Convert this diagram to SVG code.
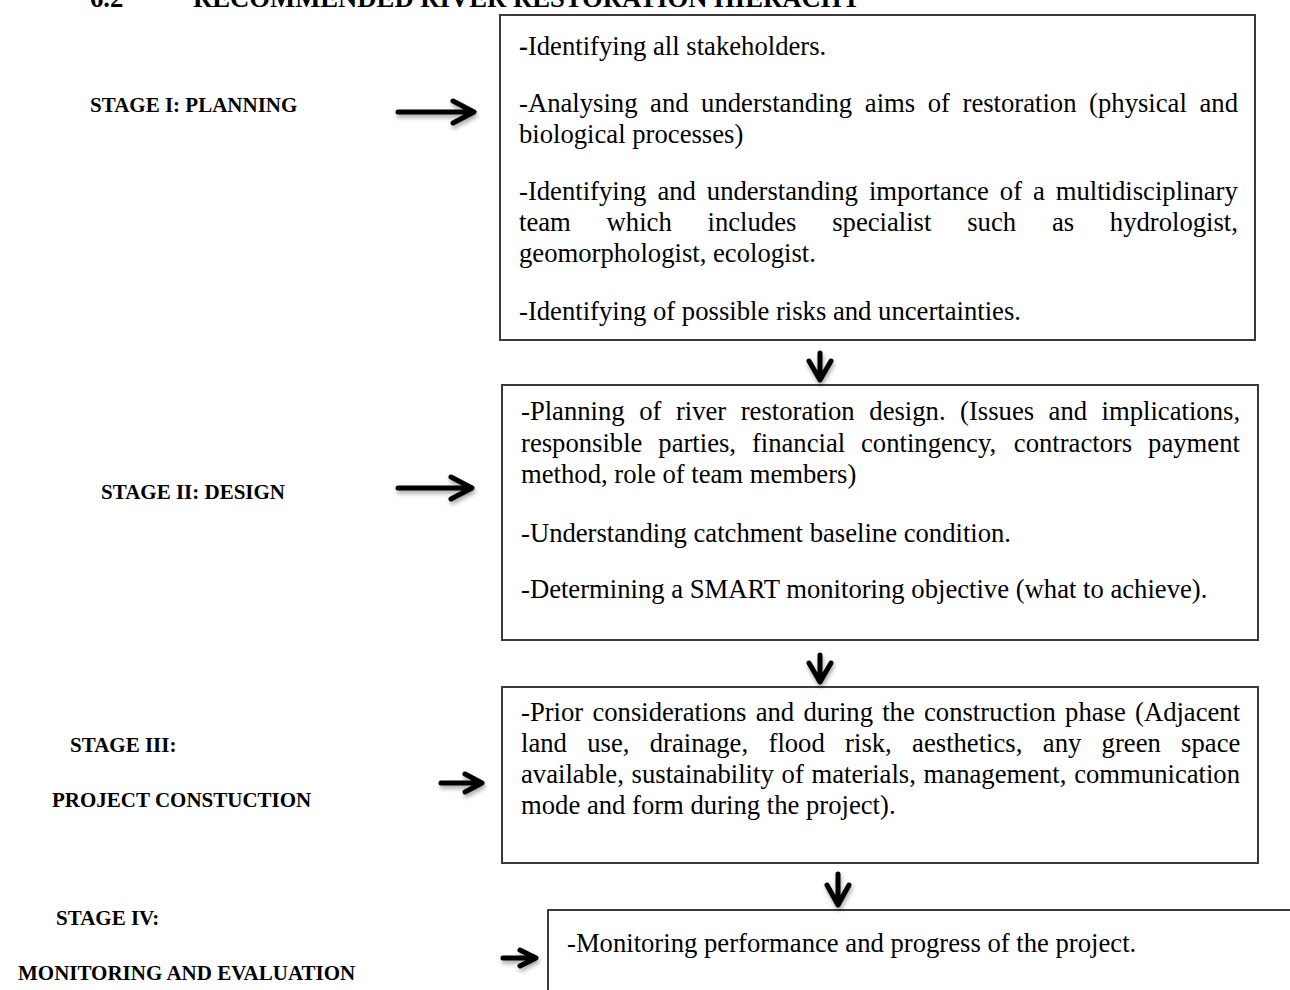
<svg xmlns="http://www.w3.org/2000/svg" width="1290" height="990" viewBox="0 0 1290 990">
<defs>
<style>
.box{fill:#fff;stroke:#3a3a3a;stroke-width:2}
.t{font-family:"Liberation Serif","Times New Roman",serif;font-size:26.67px;fill:#000}
.lab{font-family:"Liberation Serif","Times New Roman",serif;font-size:21px;font-weight:bold;fill:#000}
.title{font-family:"Liberation Serif","Times New Roman",serif;font-size:26.67px;font-weight:bold;fill:#000}
.arr{fill:none;stroke:#000;stroke-width:5;stroke-linecap:round;stroke-linejoin:round;filter:url(#sh)}
</style>
<filter id="sh" x="-30%" y="-30%" width="160%" height="180%">
<feDropShadow dx="1" dy="3" stdDeviation="2" flood-color="#000" flood-opacity="0.35"/>
</filter>
</defs>
<rect width="1290" height="990" fill="#fff"/>

<g id="title">
<text class="title" x="90" y="7">6.2</text>
<text class="title" x="193" y="7">RECOMMENDED RIVER RESTORATION HIERACHY</text>
</g>

<g id="labels">
<text class="lab" x="90" y="112">STAGE I: PLANNING</text>
<text class="lab" x="101" y="499">STAGE II: DESIGN</text>
<text class="lab" x="70" y="752">STAGE III:</text>
<text class="lab" x="52" y="807">PROJECT CONSTUCTION</text>
<text class="lab" x="56" y="925">STAGE IV:</text>
<text class="lab" x="18" y="980">MONITORING AND EVALUATION</text>
</g>

<g id="stage1">
<rect class="box" x="500" y="15" width="755" height="325"/>
<text class="t" x="519" y="55"><tspan font-weight="bold">-</tspan>Identifying all stakeholders.</text>
<text class="t" y="112"><tspan x="519">-Analysing</tspan><tspan x="650.1">and</tspan><tspan x="701.1">understanding</tspan><tspan x="864.8">aims</tspan><tspan x="927.7">of</tspan><tspan x="962.5">restoration</tspan><tspan x="1089.1">(physical</tspan><tspan x="1199.5">and</tspan></text>
<text class="t" x="519" y="143">biological processes)</text>
<text class="t" y="200"><tspan x="519">-Identifying</tspan><tspan x="657.4">and</tspan><tspan x="706.8">understanding</tspan><tspan x="868.9">importance</tspan><tspan x="999.8">of</tspan><tspan x="1033">a</tspan><tspan x="1055.7">multidisciplinary</tspan></text>
<text class="t" y="231"><tspan x="519">team</tspan><tspan x="606.6">which</tspan><tspan x="707.5">includes</tspan><tspan x="832.2">specialist</tspan><tspan x="967.2">such</tspan><tspan x="1051.9">as</tspan><tspan x="1109.8">hydrologist,</tspan></text>
<text class="t" x="519" y="262">geomorphologist, ecologist.</text>
<text class="t" x="519" y="320">-Identifying of possible risks and uncertainties.</text>
</g>

<g id="stage2">
<rect class="box" x="502" y="385" width="756" height="255"/>
<text class="t" y="420"><tspan x="521">-Planning</tspan><tspan x="639.2">of</tspan><tspan x="675.9">river</tspan><tspan x="740.7">restoration</tspan><tspan x="869.3">design.</tspan><tspan x="960.1">(Issues</tspan><tspan x="1048.6">and</tspan><tspan x="1101.6">implications,</tspan></text>
<text class="t" y="452"><tspan x="521">responsible</tspan><tspan x="658.3">parties,</tspan><tspan x="751.9">financial</tspan><tspan x="861">contingency,</tspan><tspan x="1013.8">contractors</tspan><tspan x="1148.1">payment</tspan></text>
<text class="t" x="521" y="483">method, role of team members)</text>
<text class="t" x="521" y="542">-Understanding catchment baseline condition.</text>
<text class="t" x="521" y="598">-Determining a SMART monitoring objective (what to achieve).</text>
</g>

<g id="stage3">
<rect class="box" x="502" y="687" width="756" height="176"/>
<text class="t" y="721"><tspan x="521">-Prior</tspan><tspan x="592.4">considerations</tspan><tspan x="755.7">and</tspan><tspan x="803.4">during</tspan><tspan x="882.2">the</tspan><tspan x="924">construction</tspan><tspan x="1065.1">phase</tspan><tspan x="1135">(Adjacent</tspan></text>
<text class="t" y="752"><tspan x="521">land</tspan><tspan x="587.2">use,</tspan><tspan x="649.7">drainage,</tspan><tspan x="768.5">flood</tspan><tspan x="845.1">risk,</tspan><tspan x="912.1">aesthetics,</tspan><tspan x="1042.8">any</tspan><tspan x="1101.6">green</tspan><tspan x="1181.1">space</tspan></text>
<text class="t" y="783"><tspan x="521">available,</tspan><tspan x="631.6">sustainability</tspan><tspan x="781.6">of</tspan><tspan x="811.5">materials,</tspan><tspan x="923.6">management,</tspan><tspan x="1074.2">communication</tspan></text>
<text class="t" x="521" y="814">mode and form during the project).</text>
</g>

<g id="stage4">
<path class="box" d="M1292 910 H548 V992"/>
<text class="t" x="567" y="952">-Monitoring performance and progress of the project.</text>
</g>

<g id="connectors">
<path class="arr" d="M398 112 H473 M453 101 L474 112 L453 123"/>
<path class="arr" d="M398 488 H471 M451 477 L472 488 L451 499"/>
<path class="arr" d="M441 783 H481 M465 774 L482 783 L465 792"/>
<path class="arr" d="M503 958 H535 M520 950 L536 958 L520 966"/>
<path class="arr" d="M820 353 V379 M809 361 L820 380 L831 361"/>
<path class="arr" d="M820 655 V681 M809 663 L820 682 L831 663"/>
<path class="arr" d="M838 874 V904 M827 885 L838 905 L849 885"/>
</g>
</svg>
